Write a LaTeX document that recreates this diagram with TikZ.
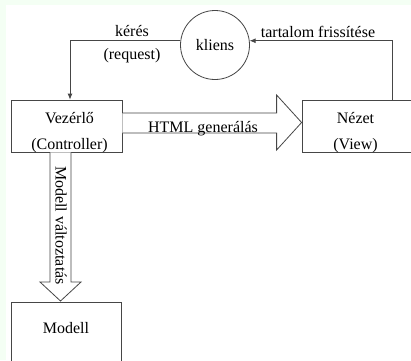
\documentclass[tikz,border=0pt]{standalone}
\usepackage{fontspec}
\setmainfont{Liberation Serif}
\usetikzlibrary{calc,arrows.meta}
\definecolor{zoldes}{RGB}{244,255,244}
\definecolor{vonal}{RGB}{70,70,70}
\newcommand\betu{\fontsize{16}{26}\selectfont}
\tikzset{doboz/.style={draw=vonal,rectangle,minimum width=111pt,minimum height=52pt,inner sep=0pt},
	nyil/.style={draw=vonal,->},
	ures/.style={draw=vonal,fill=white,line join=miter}}

\begin{document}
\begin{tikzpicture}[x=1pt,y=1pt,every node/.style={font=\betu},>={Latex[length=6pt,width=5pt]},line width=0.8pt]
\useasboundingbox (0,0) rectangle (411,360);
\clip (0,0) rectangle (411,360);
\fill[white] (0,0) rectangle (411,360);
\fill[zoldes] (0,355) rectangle (411,360);
\fill[zoldes] (0,0) rectangle (6,360);

\node[doboz] (vezerlo) at (66.5,234) {};
\node[align=center] (vezerlo-szoveg) at ([xshift=3,yshift=-6.5]vezerlo.center) {Vezérlő\\(Controller)};
\node[doboz] (nezet) at (357.5,234) {};
\node[align=center] (nezet-szoveg) at ([xshift=-2,yshift=-6.5]nezet.center) {Nézet\\(View)};
\node[doboz,minimum width=110pt,text height=31pt,text depth=30pt,anchor=north] (modell) at (66,58) {Modell};
\node[draw=vonal,circle,minimum size=69pt,inner sep=0pt] (kliens) at (215,315) {kliens};

\draw[nyil] (kliens.173) -| ([xshift=3.5]vezerlo.north);
\draw[nyil] ([xshift=34.5]nezet.north) |- (kliens.7);

\draw[ures] ([yshift=13]vezerlo.east) -| ([xshift=-25,yshift=31]nezet.west) -- ([yshift=3.5]nezet.west) -- ([xshift=-25,yshift=-24]nezet.west) |- ([yshift=-7]vezerlo.east);
\draw[ures] ([xshift=-16.5]vezerlo.south) |- ([xshift=-26,yshift=20]modell.north) -- ([xshift=-5.5,yshift=1]modell.north) -- ([xshift=15,yshift=20]modell.north) -| ([xshift=4.5]vezerlo.south);

\node[anchor=base] (keres) at (132,324) {kérés};
\node[anchor=base] (request) at (132,301) {(request)};
\node[anchor=base] (frissites) at (318,323) {tartalom frissítése};
\node[anchor=base] (html) at (203,228) {HTML generálás};
\node[rotate=-90] (valtozt) at (61,134.5) {Modell változtatás};
\end{tikzpicture}
\end{document}
